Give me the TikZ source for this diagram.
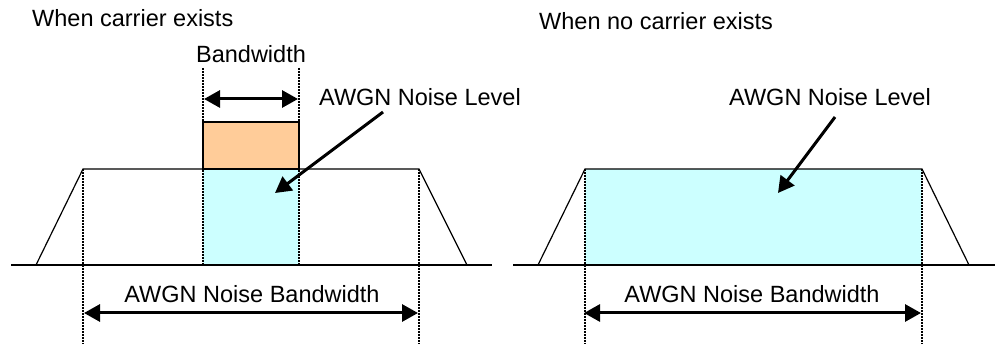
\documentclass[tikz,border=0pt]{standalone}
\usepackage{fontspec}
\setmainfont{Liberation Sans}
\usetikzlibrary{arrows.meta}
\definecolor{carrierfill}{HTML}{FFCC99}
\definecolor{noisefill}{HTML}{CCFFFF}
\tikzset{
  lbl/.style={inner sep=0pt, font=\fontsize{23.5}{28}\selectfont},
  thin line/.style={line width=1.2pt},
  guide/.style={line width=1.6pt, dash pattern=on 1.6pt off 1.4pt},
  dimarrow/.style={line width=3pt, {Triangle[length=16pt,width=17pt]}-{Triangle[length=16pt,width=17pt]}},
  ptrarrow/.style={line width=3pt, -{Triangle[length=16pt,width=17pt]}}
}
\begin{document}
\begin{tikzpicture}[x=1pt,y=-1pt]
\useasboundingbox (0,0) rectangle (995,344);
% ---------------- left panel ----------------
\node[lbl, anchor=base west] (title1) at (32,27) {When carrier exists};
\fill[noisefill] (203,169) rectangle (299,265);
\draw[thin line, fill=carrierfill] (203,169) rectangle (299,122);
\draw[thin line] (11,265) -- (492,265);
\draw[thin line] (36,265) -- (83,169) -- (419,169) -- (467,265);
\draw[guide] (203,68) -- (203,265);
\draw[guide] (299,68) -- (299,265);
\draw[guide] (83,169) -- (83,344);
\draw[guide] (419,169) -- (419,344);
\node[lbl, anchor=base] (bw1) at (251,63) {Bandwidth};
\coordinate (bwl) at (204,99);
\coordinate (bwr) at (298,99);
\draw[dimarrow] (bwl) -- (bwr);
\node[lbl, anchor=base west] (lev1) at (319,106) {AWGN Noise Level};
\coordinate (p1s) at (383,112);
\coordinate (p1e) at (275,193);
\draw[ptrarrow] (p1s) -- (p1e);
\node[lbl, anchor=base] (nbw1) at (252,303) {AWGN Noise Bandwidth};
\coordinate (nl1) at (84,313);
\coordinate (nr1) at (418,313);
\draw[dimarrow] (nl1) -- (nr1);
% ---------------- right panel ----------------
\node[lbl, anchor=base west] (title2) at (539,30) {When no carrier exists};
\fill[noisefill] (585,169) rectangle (922,265);
\draw[thin line] (513,265) -- (995,265);
\draw[thin line] (538,265) -- (585,169) -- (922,169) -- (969,265);
\draw[guide] (585,169) -- (585,344);
\draw[guide] (922,169) -- (922,344);
\node[lbl, anchor=base] (lev2) at (830,106) {AWGN Noise Level};
\coordinate (p2s) at (835,117);
\coordinate (p2e) at (778,193);
\draw[ptrarrow] (p2s) -- (p2e);
\node[lbl, anchor=base] (nbw2) at (752,303) {AWGN Noise Bandwidth};
\coordinate (nl2) at (584,313);
\coordinate (nr2) at (921,313);
\draw[dimarrow] (nl2) -- (nr2);
\end{tikzpicture}
\end{document}
